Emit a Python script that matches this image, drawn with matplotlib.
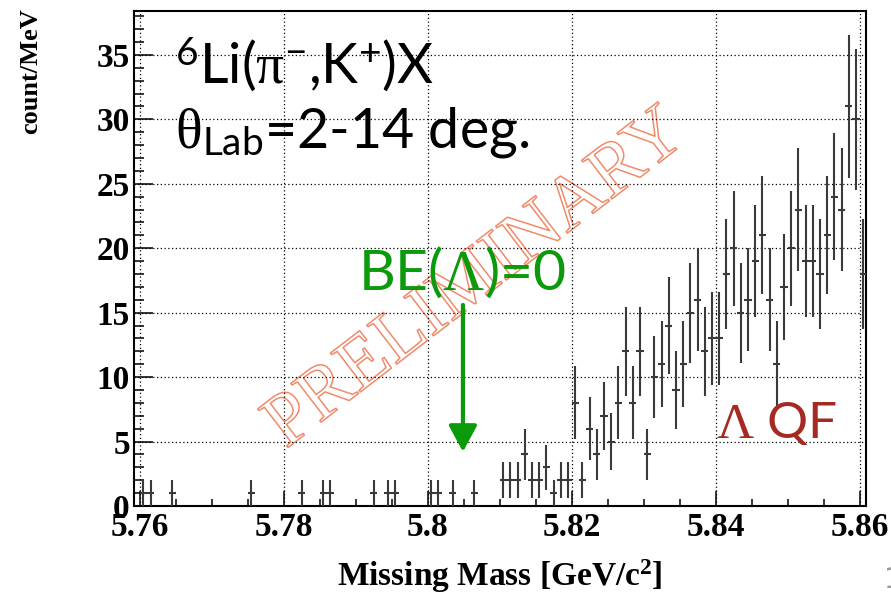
import matplotlib
matplotlib.use('Agg')
import matplotlib.pyplot as plt
import matplotlib.patheffects as pe
from matplotlib.ticker import MultipleLocator

# missing mass bin centres [GeV/c^2] (1 MeV bins, empty bins left out)
mass = [5.7605, 5.7615, 5.7645, 5.7755, 5.7825, 5.7855, 5.7865,
        5.7925, 5.7945, 5.7955, 5.8005, 5.8015, 5.8035, 5.8065,
        5.8105, 5.8115, 5.8125, 5.8135, 5.8145, 5.8155, 5.8165, 5.8175,
        5.8185, 5.8195, 5.8205, 5.8215, 5.8225, 5.8235, 5.8245, 5.8255,
        5.8265, 5.8275, 5.8285, 5.8295, 5.8305, 5.8315, 5.8325, 5.8335,
        5.8345, 5.8355, 5.8365, 5.8375, 5.8385, 5.8395, 5.8405, 5.8415,
        5.8425, 5.8435, 5.8445, 5.8455, 5.8465, 5.8475, 5.8485, 5.8495,
        5.8505, 5.8515, 5.8525, 5.8535, 5.8545, 5.8555, 5.8565, 5.8575,
        5.8585, 5.8595, 5.8605]
counts = [1, 1, 1, 1, 1, 1, 1,
          1, 1, 1, 1, 1, 1, 1,
          2, 2, 2, 4, 2, 2, 3, 1,
          2, 2, 8, 2, 6, 4, 7, 5,
          8, 12, 8, 12, 4, 10, 11, 14,
          9, 11, 15, 16, 12, 13, 13, 18,
          20, 15, 16, 19, 21, 16, 11, 17,
          20, 23, 19, 19, 18, 21, 24, 23,
          31, 30, 18]
bin_width = 0.001
threshold = 5.8049   # BE(Lambda)=0

errors = [c ** 0.5 for c in counts]

plt.rcParams['mathtext.fontset'] = 'custom'
plt.rcParams['mathtext.rm'] = 'Liberation Serif'
plt.rcParams['mathtext.sf'] = 'Lato'
plt.rcParams['mathtext.it'] = 'Liberation Serif:italic'
plt.rcParams['mathtext.bf'] = 'Liberation Serif:bold'

W, H = 891, 596
fig = plt.figure(figsize=(W / 100, H / 100), dpi=100)
ax = fig.add_axes([134 / W, 1 - 506 / H, (866 - 134) / W, (506 - 11) / H])


def px(x, y):
    return x / W, 1 - y / H


green = '#0a9a0a'
darkred = '#a42a22'

ax.errorbar(mass, counts, yerr=errors, xerr=bin_width / 2, fmt='none',
            ecolor='#3a3a3a', elinewidth=1.5, capsize=0, zorder=3)

ax.set_xlim(5.7592, 5.8609)
ax.set_ylim(0, 38.4)
ax.xaxis.set_minor_locator(MultipleLocator(0.005))
ax.yaxis.set_major_locator(MultipleLocator(5))
ax.yaxis.set_minor_locator(MultipleLocator(1))
ax.set_xticks([5.76, 5.78, 5.80, 5.82, 5.84, 5.86])
ax.set_xticklabels(['5.76', '5.78', '5.8', '5.82', '5.84', '5.86'])
ax.tick_params(which='both', direction='in', width=1.1,
               labelsize=24, labelfontfamily='Liberation Serif')
ax.tick_params(axis='x', which='major', length=11, pad=4)
ax.tick_params(axis='x', which='minor', length=5)
ax.tick_params(axis='y', which='major', length=14, pad=3)
ax.tick_params(axis='y', which='minor', length=7)
for lab in ax.get_xticklabels() + ax.get_yticklabels():
    lab.set_fontweight('bold')
ax.grid(True, which='major', color='black', linestyle=(0, (1, 2)), lw=0.9)
for s in ax.spines.values():
    s.set_linewidth(1.5)

fig.text(*px(500, 586), r'Missing Mass [GeV/c$^{\mathbf{2}}$]', ha='center',
         va='baseline', fontsize=24, fontweight='bold', family='Liberation Serif')
fig.text(*px(31, 8), 'count/MeV', rotation=90, ha='center', va='top',
         fontsize=19, fontweight='bold', family='Liberation Serif')

# watermark
ax.text(5.8068, 17.5, 'PRELIMINARY', rotation=37.5, rotation_mode='anchor',
        ha='center', va='center', fontsize=54, family='Liberation Serif',
        color='none', zorder=1,
        path_effects=[pe.Stroke(linewidth=1.1, foreground='#f08a6a')])

fig.text(*px(175, 83), r'$^{\mathsf{6}}$Li($\mathrm{\pi}^{\mathsf{-}}$,K$^{\mathsf{+}}$)X',
         fontsize=40, family='Lato', va='baseline')
fig.text(*px(175, 148), r'$\mathrm{\theta}_{\mathsf{Lab}}$=2-14 deg.',
         fontsize=40, family='Lato', va='baseline')
fig.text(*px(358, 290), r'BE($\mathrm{\Lambda}$)=0', fontsize=41,
         family='Lato', color=green, va='baseline')
fig.text(*px(716, 438), r'$\mathrm{\Lambda}$ QF', fontsize=37,
         family='Lato', color=darkred, va='baseline')

ax.annotate('', xy=(threshold, 4.2), xytext=(threshold, 15.6),
            arrowprops=dict(arrowstyle='-|>,head_length=0.8,head_width=0.43',
                            color=green, lw=3, mutation_scale=20,
                            shrinkA=0, shrinkB=0), zorder=4)

fig.text(*px(884, 588), '1', fontsize=20, color='#9a9a9a', va='baseline')

fig.savefig('out.png', dpi=100)
